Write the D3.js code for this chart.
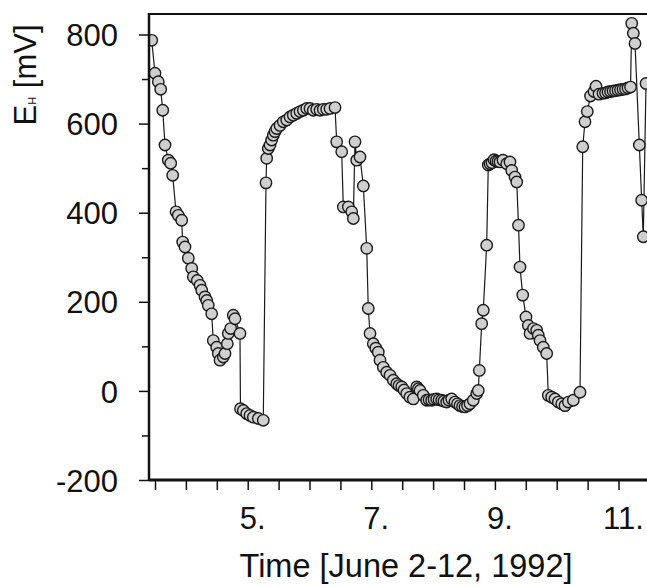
<!DOCTYPE html>
<html>
<head>
<meta charset="utf-8">
<script src="https://d3js.org/d3.v7.min.js"></script>
<style>
    body { margin: 0; background: #fff; }
    svg { display: block; }
    text { font-family: "Liberation Sans", Arial, Helvetica, sans-serif; fill: #111; }
</style>
</head>
<body>
<svg id="chart" width="647" height="587"></svg>
<script>
/* Data */
/* ************************** */

// Time in days of June 1992, one row per stretch of the curve
var days = [
    // falling limb, June 3-4
    3.447, 3.500, 3.553, 3.592, 3.625, 3.662, 3.715, 3.754, 3.786, 3.840,
    3.877, 3.932, 3.948, 3.985, 4.039, 4.094, 4.120, 4.184, 4.228, 4.256,
    4.309, 4.337, 4.362, 4.417, 4.443, 4.498, 4.524, 4.552, 4.605, 4.633,
    4.670, 4.686, 4.725, 4.767, 4.794, 4.875,
    // low, June 5
    4.883, 4.929, 4.984, 5.037, 5.091, 5.172, 5.252,
    // first plateau
    5.296, 5.307, 5.333, 5.361, 5.388, 5.414, 5.442, 5.469, 5.523, 5.576,
    5.631, 5.684, 5.738, 5.793, 5.846, 5.900, 5.955, 6.008, 6.061, 6.117,
    6.170, 6.223, 6.278, 6.332, 6.413,
    // breakdown
    6.440, 6.521, 6.547, 6.628, 6.683, 6.709, 6.736, 6.764, 6.817, 6.871,
    6.926, 6.951, 6.979, 7.032,
    // long low, June 7-8
    7.073, 7.113, 7.141, 7.194, 7.249, 7.303, 7.356, 7.411, 7.448, 7.492,
    7.529, 7.573, 7.626, 7.680, 7.735, 7.761, 7.788, 7.841, 7.896, 7.934,
    7.977, 8.015, 8.058, 8.096, 8.139, 8.176, 8.220, 8.257, 8.301, 8.354,
    8.395, 8.435, 8.476, 8.516, 8.557, 8.597, 8.650, 8.706, 8.731,
    // second plateau and decline
    8.748, 8.786, 8.812, 8.867, 8.893, 8.921, 8.953, 8.985, 9.018, 9.050,
    9.083, 9.131, 9.191, 9.244, 9.272, 9.325, 9.353, 9.382, 9.406, 9.450,
    9.503, 9.541, 9.568, 9.624, 9.676, 9.702, 9.730, 9.783, 9.838,
    // low, June 10
    9.864, 9.919, 9.972, 10.026, 10.081, 10.134, 10.188, 10.269, 10.377,
    // third plateau
    10.421, 10.458, 10.495, 10.547, 10.604, 10.636, 10.684, 10.749, 10.790, 10.830,
    10.871, 10.911, 10.951, 10.992, 11.032, 11.073, 11.113, 11.154, 11.195,
    // spike at the right edge
    11.214, 11.240, 11.267, 11.337, 11.375, 11.401, 11.445
];

// Redox potential E_H in mV
var eh = [
    787, 713, 694, 677, 630, 552, 518, 511, 484, 402,
    394, 383, 334, 323, 298, 275, 256, 248, 237, 226,
    211, 203, 192, 173, 113, 98, 84, 69, 76, 84,
    106, 129, 140, 170, 162, 129,

    -40, -44, -51, -55, -59, -62, -66,

    467, 522, 544, 552, 563, 574, 582, 589, 596, 604,
    608, 615, 619, 623, 627, 630, 634, 634, 630, 632,
    630, 632, 632, 634, 636,

    559, 537, 413, 413, 402, 387, 559, 518, 525, 460,
    320, 185, 129, 106,

    96, 87, 69, 53, 42, 35, 24, 16, 12, 9,
    2, -6, -14, -18, 9, 5, 1, -10, -21, -20,
    -21, -19, -18, -20, -21, -23, -25, -21, -18, -25,
    -29, -33, -35, -36, -33, -29, -21, -6, 1,

    46, 151, 181, 327, 507, 510, 512, 519, 516, 515,
    514, 518, 510, 514, 495, 480, 469, 372, 278, 215,
    166, 147, 129, 140, 136, 125, 113, 98, 84,

    -10, -14, -18, -25, -29, -33, -25, -21, -3,

    548, 604, 627, 662, 672, 684, 666, 668, 669, 671,
    672, 673, 674, 675, 676, 677, 678, 680, 682,

    825, 803, 780, 552, 428, 346, 690
];

var yTicks = [-200, 0, 200, 400, 600, 800];
var yMinorTicks = [-100, 100, 300, 500, 700];
var xTicks = [3.5, 4, 4.5, 5, 5.5, 6, 6.5, 7, 7.5, 8, 8.5, 9, 9.5, 10, 10.5, 11];
var xLabels = [5, 7, 9, 11];

/* Layout */
/* ****** */
var svg = d3.select('#chart');
var plotLeft = 149, plotTop = 14, plotBottom = 480, plotRight = 660;

var x = d3.scaleLinear().domain([5, 11]).range([247.7, 618.5]);
var y = d3.scaleLinear().domain([-200, 800]).range([480, 34.5]);

var points = days.map(function (d, i) {
    return { t: d, v: eh[i] };
});

svg.append('defs')
    .append('clipPath')
    .attr('id', 'plotclip')
    .append('rect')
    .attr('x', plotLeft)
    .attr('y', plotTop)
    .attr('width', plotRight - plotLeft)
    .attr('height', plotBottom - plotTop);

var plot = svg.append('g').attr('clip-path', 'url(#plotclip)');

// Connecting line
plot.append('path')
    .datum(points)
    .attr('fill', 'none')
    .attr('stroke', '#1a1a1a')
    .attr('stroke-width', 1.2)
    .attr('d', d3.line()
        .x(function (d) { return x(d.t); })
        .y(function (d) { return y(d.v); }));

// Markers
plot.selectAll('circle')
    .data(points)
    .enter()
    .append('circle')
    .attr('cx', function (d) { return x(d.t); })
    .attr('cy', function (d) { return y(d.v); })
    .attr('r', 5.7)
    .attr('fill', '#cfcfcf')
    .attr('stroke', '#1a1a1a')
    .attr('stroke-width', 1.4);

/* Axes */
/* **** */
var yAxis = svg.append('g')
    .attr('transform', 'translate(' + plotLeft + ',0)')
    .call(d3.axisLeft(y).tickValues(yTicks).tickSize(10).tickPadding(21)
        .tickFormat(function (d) { return String(d); }));
yAxis.select('.domain').remove();
yAxis.selectAll('.tick line').attr('stroke', '#111').attr('stroke-width', 1.5);
yAxis.selectAll('.tick text')
    .attr('font-size', 31)
    .attr('dy', '0.36em')
    .style('font-family', '"Liberation Sans", Arial, sans-serif');

svg.append('g')
    .attr('transform', 'translate(' + plotLeft + ',0)')
    .call(d3.axisLeft(y).tickValues(yMinorTicks).tickSize(7).tickFormat(''))
    .call(function (g) { g.select('.domain').remove(); })
    .selectAll('.tick line').attr('stroke', '#111').attr('stroke-width', 1.5);

var xAxis = svg.append('g')
    .attr('transform', 'translate(0,' + plotBottom + ')')
    .call(d3.axisBottom(x).tickValues(xTicks).tickSize(10).tickFormat(''));
xAxis.select('.domain').remove();
xAxis.selectAll('.tick line').attr('stroke', '#111').attr('stroke-width', 1.5);

svg.selectAll('text.xlabel')
    .data(xLabels)
    .enter()
    .append('text')
    .attr('class', 'xlabel')
    .attr('x', function (d) { return x(d) + 5; })
    .attr('y', 529)
    .attr('text-anchor', 'middle')
    .attr('font-size', 31)
    .text(function (d) { return d + '.'; });

// Frame: left axis, top line, heavy bottom axis
svg.append('line')
    .attr('x1', plotLeft).attr('x2', plotLeft)
    .attr('y1', plotTop - 1).attr('y2', plotBottom + 1)
    .attr('stroke', '#111').attr('stroke-width', 2.5);
svg.append('line')
    .attr('x1', plotLeft).attr('x2', 647)
    .attr('y1', plotTop).attr('y2', plotTop)
    .attr('stroke', '#111').attr('stroke-width', 1.8);
svg.append('line')
    .attr('x1', plotLeft).attr('x2', 647)
    .attr('y1', plotBottom).attr('y2', plotBottom)
    .attr('stroke', '#111').attr('stroke-width', 3);

/* Titles */
/* ****** */
svg.append('text')
    .attr('x', 406)
    .attr('y', 577)
    .attr('text-anchor', 'middle')
    .attr('font-size', 32.5)
    .text('Time [June 2-12, 1992]');

var ylab = svg.append('text')
    .attr('transform', 'translate(36,75) rotate(-90)')
    .attr('text-anchor', 'middle')
    .attr('font-size', 31);
ylab.append('tspan').text('E');
ylab.append('tspan').attr('font-size', 11).text('H');
ylab.append('tspan').text(' [mV]');
</script>
</body>
</html>
